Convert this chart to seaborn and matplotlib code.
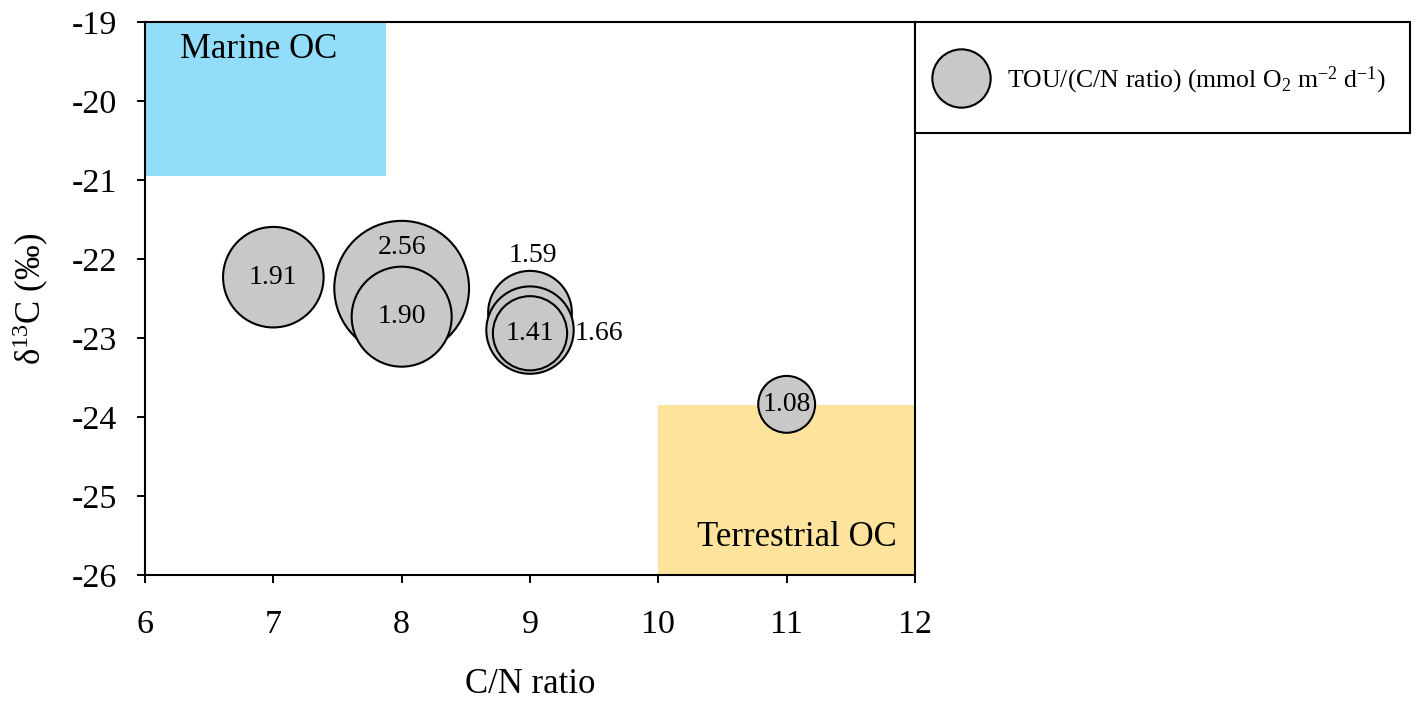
import numpy as np
import pandas as pd
import matplotlib
matplotlib.use("Agg")
import matplotlib.pyplot as plt
import seaborn as sns
from matplotlib.patches import Rectangle
from matplotlib.lines import Line2D

# ---- data ----
cn_ratio = [7, 8, 8, 9, 9, 9, 11]
d13c = [-22.23, -22.37, -22.73, -22.68, -22.90, -22.94, -23.84]
tou_cn = [1.91, 2.56, 1.90, 1.59, 1.66, 1.41, 1.08]
labels = ["1.91", "2.56", "1.90", "1.59", "1.66", "1.41", "1.08"]
x_ticks = [6, 7, 8, 9, 10, 11, 12]
y_ticks = [-26, -25, -24, -23, -22, -21, -20, -19]

df = pd.DataFrame({"cn": cn_ratio, "d13c": d13c, "tou": tou_cn})

sns.set_theme(style="ticks")
plt.rcParams["font.family"] = ["Liberation Serif", "DejaVu Serif"]
plt.rcParams["mathtext.fontset"] = "custom"
plt.rcParams["mathtext.rm"] = "Liberation Serif"
plt.rcParams["mathtext.it"] = "Liberation Serif:italic"
plt.rcParams["mathtext.bf"] = "Liberation Serif:bold"
plt.rcParams["axes.unicode_minus"] = False
plt.rcParams["text.color"] = "black"
plt.rcParams["axes.labelcolor"] = "black"

W, H = 1417, 706
fig = plt.figure(figsize=(W / 100, H / 100), dpi=100)
ax = fig.add_axes([145 / W, 1 - 575 / H, 770 / W, 553 / H])

# background regions
ax.add_patch(Rectangle((6, -20.95), 1.88, 1.95, facecolor="#91DDFA", edgecolor="none", zorder=0))
ax.add_patch(Rectangle((10, -26), 2, 2.15, facecolor="#FDE39B", edgecolor="none", zorder=0))
ax.text(6.27, -19.35, "Marine OC", fontsize=25, ha="left", va="center", zorder=1)
ax.text(11.86, -25.53, "Terrestrial OC", fontsize=25, ha="right", va="center", zorder=1)

k = 37.9
size_map = {v: (k * v) ** 2 for v in tou_cn}
sns.scatterplot(data=df, x="cn", y="d13c", size="tou", sizes=size_map,
                color="#C8C8C8", edgecolor="black", linewidth=1.5,
                alpha=1, legend=False, ax=ax, zorder=3)

offsets = {"2.56": (0, 0.52), "1.59": (0.02, 0.73), "1.66": (0.54, -0.04)}
for x, y, lab in zip(cn_ratio, d13c, labels):
    dx, dy = offsets.get(lab, (0, 0))
    ax.text(x + dx, y + dy, lab, fontsize=20, ha="center", va="center", zorder=5)

ax.set_xlim(6, 12)
ax.set_ylim(-26, -19)
ax.set_xticks(x_ticks)
ax.set_yticks(y_ticks)
ax.tick_params(axis="both", direction="out", length=6, width=1.4, labelsize=24.5,
               color="black", labelcolor="black")
ax.tick_params(axis="x", pad=19)
ax.tick_params(axis="y", pad=14)
for s in ax.spines.values():
    s.set_visible(True)
    s.set_color("black")
    s.set_linewidth(1.5)
ax.set_xlabel("C/N ratio", fontsize=25, labelpad=20)
ax.set_ylabel(r"δ$^{13}$C (‰)", fontsize=25, labelpad=15)

# legend frame + legend
fig.patches.append(Rectangle((915 / W, 1 - 133 / H), 495 / W, 111 / H,
                             transform=fig.transFigure, facecolor="white",
                             edgecolor="black", linewidth=1.5, zorder=0))
handle = Line2D([], [], marker="o", linestyle="none", markersize=42,
                markerfacecolor="#C8C8C8", markeredgecolor="black", markeredgewidth=1.5)
leg = fig.legend([handle], [r"TOU/(C/N ratio) (mmol O$_2$ m$^{-2}$ d$^{-1}$)"],
                 loc="center left", bbox_to_anchor=(935.5 / W, 1 - 80 / H),
                 fontsize=18.5, frameon=False, borderpad=0, borderaxespad=0,
                 handlelength=2.0, handletextpad=0.8)

fig.savefig("out.png", dpi=100)
